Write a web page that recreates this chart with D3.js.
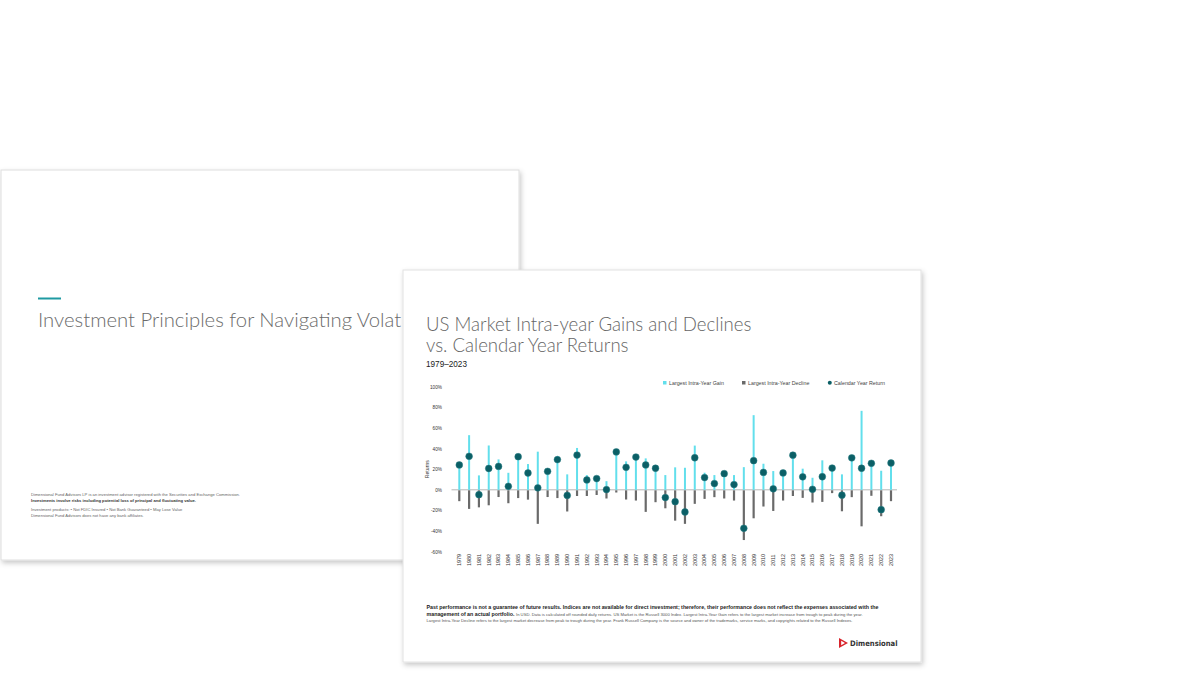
<!DOCTYPE html>
<html>
<head>
<meta charset="utf-8">
<script src="https://cdn.jsdelivr.net/npm/d3@7"></script>
<style>
  html, body { margin: 0; padding: 0; background: #fff; }
  svg { display: block; }
</style>
</head>
<body>
<svg id="chart" width="1200" height="675"></svg>
<script>
// values (percent)
const years = d3.range(1979, 2024);
const gains = [25, 53, 14, 43, 29.5, 16.5, 33, 25, 37, 19, 32.8,
               15, 40.6, 14.3, 11.7, 8.4, 37.5, 27.6, 32.5, 30.5, 21.5,
               14.3, 21.8, 21.4, 42.9, 16.6, 14.3, 16, 14.3, 22, 72.4,
               25.3, 18.2, 17, 34, 20.5, 11.7, 28.6, 22, 15, 31.5,
               76.6, 26.5, 18.5, 26.5];
const declines = [-11, -18.5, -17, -15, -7, -13, -8, -9.5, -33, -7, -8,
                  -21, -6, -6, -5, -8.4, -2.6, -9.4, -10.4, -21.4, -12,
                  -17.9, -29.9, -33, -13.6, -8.8, -7.1, -8.4, -10.4, -48.7, -27.6,
                  -16.2, -20.5, -10.4, -6, -7.8, -12.3, -11.7, -3.2, -20.8, -7.1,
                  -35.4, -5.8, -25.6, -11];
const returns = [24.1, 32.5, -4.7, 20.7, 22.7, 3.4, 32.1, 16.3, 1.9, 17.9, 29.3,
                 -5.4, 33.7, 9.6, 10.9, 0.2, 36.8, 21.8, 31.8, 24.1, 20.9,
                 -7.5, -11.5, -21.5, 31.1, 11.9, 6.1, 15.7, 5.1, -37.3, 28.3,
                 16.9, 1.0, 16.4, 33.6, 12.6, 0.5, 12.7, 21.1, -5.2, 31.0,
                 20.9, 25.7, -19.2, 26.0];
const yTicks = [100, 80, 60, 40, 20, 0, -20, -40, -60];
const legendItems = ["Largest Intra-Year Gain", "Largest Intra-Year Decline", "Calendar Year Return"];

const gainColor = "#62dfec";
const declineColor = "#6a6a6a";
const dotColor = "#0b5f66";

const svg = d3.select("#chart");
const defs = svg.append("defs");
const shadow = defs.append("filter").attr("id", "shadow")
    .attr("x", "-5%").attr("y", "-5%").attr("width", "112%").attr("height", "115%");
shadow.append("feDropShadow")
    .attr("dx", 1.5).attr("dy", 2.5).attr("stdDeviation", 2.5)
    .attr("flood-color", "#000").attr("flood-opacity", 0.22);

// ---- back slide ----
const back = svg.append("g");
back.append("rect")
    .attr("x", 1).attr("y", 170).attr("width", 518).attr("height", 390)
    .attr("fill", "#fff").attr("stroke", "#dedede").attr("stroke-width", 1)
    .attr("filter", "url(#shadow)");
back.append("line")
    .attr("x1", 38).attr("x2", 61).attr("y1", 298.5).attr("y2", 298.5)
    .attr("stroke", "#1f9aa2").attr("stroke-width", 2);
// the rest of this title is hidden under the front slide
back.append("text")
    .attr("x", 38).attr("y", 327)
    .attr("font-family", "Lato").attr("font-weight", 300)
    .attr("font-size", 20.3).attr("fill", "#6b6b6b")
    .text("Investment Principles for Navigating Volat");

const backNotes = [
  { t: "Dimensional Fund Advisors LP is an investment advisor registered with the Securities and Exchange Commission.", y: 496, b: false },
  { t: "Investments involve risks including potential loss of principal and fluctuating value.", y: 501.5, b: true },
  { t: "Investment products: • Not FDIC Insured • Not Bank Guaranteed • May Lose Value", y: 511, b: false },
  { t: "Dimensional Fund Advisors does not have any bank affiliates.", y: 516.5, b: false }
];
back.selectAll("text.note").data(backNotes).enter().append("text")
    .attr("class", "note")
    .attr("x", 31).attr("y", d => d.y)
    .attr("font-family", "Liberation Sans").attr("font-size", 4.15)
    .attr("font-weight", d => d.b ? "bold" : "normal")
    .attr("fill", d => d.b ? "#333" : "#666")
    .text(d => d.t);

// ---- front slide ----
const front = svg.append("g");
front.append("rect")
    .attr("x", 403).attr("y", 270).attr("width", 518).attr("height", 392)
    .attr("fill", "#fff").attr("stroke", "#e2e2e2").attr("stroke-width", 1)
    .attr("filter", "url(#shadow)");

const titleLines = ["US Market Intra-year Gains and Declines", "vs. Calendar Year Returns"];
front.selectAll("text.title").data(titleLines).enter().append("text")
    .attr("class", "title")
    .attr("x", 426).attr("y", (d, i) => 331 + i * 21)
    .attr("font-family", "Lato").attr("font-weight", 300)
    .attr("font-size", 18.6).attr("fill", "#666")
    .text(d => d);
front.append("text")
    .attr("x", 426).attr("y", 366.5)
    .attr("font-family", "Liberation Sans").attr("font-size", 8.2).attr("fill", "#222")
    .text("1979–2023");

// scales
const x = d3.scalePoint().domain(years).range([459.3, 891]);
const y = d3.scaleLinear().domain([-60, 100]).range([551.7, 386.7]);

// y axis
const yAxis = front.append("g")
    .attr("transform", "translate(442,0)")
    .call(d3.axisLeft(y).tickValues(yTicks).tickSize(0).tickPadding(0).tickFormat(d => d + "%"));
yAxis.select(".domain").remove();
yAxis.selectAll("text")
    .attr("font-family", "Liberation Sans").attr("font-size", 4.7).attr("fill", "#333");

front.append("text")
    .attr("transform", "translate(429," + ((y(100) + y(-60)) / 2) + ") rotate(-90)")
    .attr("text-anchor", "middle")
    .attr("font-family", "Liberation Sans").attr("font-size", 5.2).attr("fill", "#333")
    .text("Returns");

// zero line
front.append("line")
    .attr("x1", 451.5).attr("x2", 897)
    .attr("y1", y(0)).attr("y2", y(0))
    .attr("stroke", "#b5b5b5").attr("stroke-width", 1);

// x axis labels, rotated to read upward
const xAxis = front.append("g")
    .call(d3.axisBottom(x).tickSize(0).tickPadding(0));
xAxis.select(".domain").remove();
xAxis.selectAll(".tick").attr("transform", d => "translate(" + x(d) + ",553)");
xAxis.selectAll(".tick text")
    .attr("font-family", "Liberation Sans").attr("font-size", 5.4).attr("fill", "#333")
    .attr("transform", "rotate(-90)")
    .attr("x", -13).attr("y", 0).attr("dy", "0.35em")
    .attr("text-anchor", "start");

// bars
const rows = years.map((yr, i) => ({ yr, g: gains[i], d: declines[i], r: returns[i] }));
front.append("g").selectAll("line").data(rows).enter().append("line")
    .attr("x1", d => x(d.yr)).attr("x2", d => x(d.yr))
    .attr("y1", y(0)).attr("y2", d => y(d.g))
    .attr("stroke", gainColor).attr("stroke-width", 2);
front.append("g").selectAll("line").data(rows).enter().append("line")
    .attr("x1", d => x(d.yr)).attr("x2", d => x(d.yr))
    .attr("y1", y(0) + 0.5).attr("y2", d => y(d.d))
    .attr("stroke", declineColor).attr("stroke-width", 2.2);
front.append("g").selectAll("circle").data(rows).enter().append("circle")
    .attr("cx", d => x(d.yr)).attr("cy", d => y(d.r)).attr("r", 3.4)
    .attr("fill", dotColor).attr("stroke", "#2a7f85").attr("stroke-width", 0.5);

// legend
const legendX = [663, 742, 828];
const legend = front.append("g");
legend.selectAll("rect").data([0, 1]).enter().append("rect")
    .attr("x", i => legendX[i]).attr("y", 381).attr("width", 3.5).attr("height", 3.5)
    .attr("fill", i => i === 0 ? gainColor : declineColor);
legend.append("circle").attr("cx", legendX[2] + 1.8).attr("cy", 382.8).attr("r", 2)
    .attr("fill", dotColor);
legend.selectAll("text").data(legendItems).enter().append("text")
    .attr("x", (d, i) => legendX[i] + 6).attr("y", 384.8)
    .attr("font-family", "Liberation Sans").attr("font-size", 5.3).attr("fill", "#444")
    .text(d => d);

// footnotes
const foot = front.append("g").attr("font-family", "Liberation Sans").attr("fill", "#222");
foot.append("text").attr("x", 426.5).attr("y", 608.5)
    .attr("font-size", 5.3).attr("font-weight", "bold")
    .text("Past performance is not a guarantee of future results. Indices are not available for direct investment; therefore, their performance does not reflect the expenses associated with the");
const l2 = foot.append("text").attr("x", 426.5).attr("y", 615.5);
l2.append("tspan").attr("font-size", 5.3).attr("font-weight", "bold").text("management of an actual portfolio. ");
l2.append("tspan").attr("font-size", 4.2).attr("fill", "#555")
    .text("In USD. Data is calculated off rounded daily returns. US Market is the Russell 3000 Index. Largest Intra-Year Gain refers to the largest market increase from trough to peak during the year.");
foot.append("text").attr("x", 426.5).attr("y", 621.8)
    .attr("font-size", 4.2).attr("fill", "#555")
    .text("Largest Intra-Year Decline refers to the largest market decrease from peak to trough during the year. Frank Russell Company is the source and owner of the trademarks, service marks, and copyrights related to the Russell Indexes.");

// logo
const logo = front.append("g").attr("transform", "translate(839,643)");
logo.append("path").attr("d", "M0,-5 L0,5 L9,0 Z").attr("fill", "#d8242c");
logo.append("path").attr("d", "M2.2,-2.2 L2.2,2.2 L6,0 Z").attr("fill", "#fff");
logo.append("text").attr("x", 11).attr("y", 2.8)
    .attr("font-family", "DejaVu Sans Condensed, DejaVu Sans").attr("font-stretch", "condensed")
    .attr("font-weight", "bold")
    .attr("font-size", 7.6).attr("fill", "#333")
    .text("Dimensional");
</script>
</body>
</html>
